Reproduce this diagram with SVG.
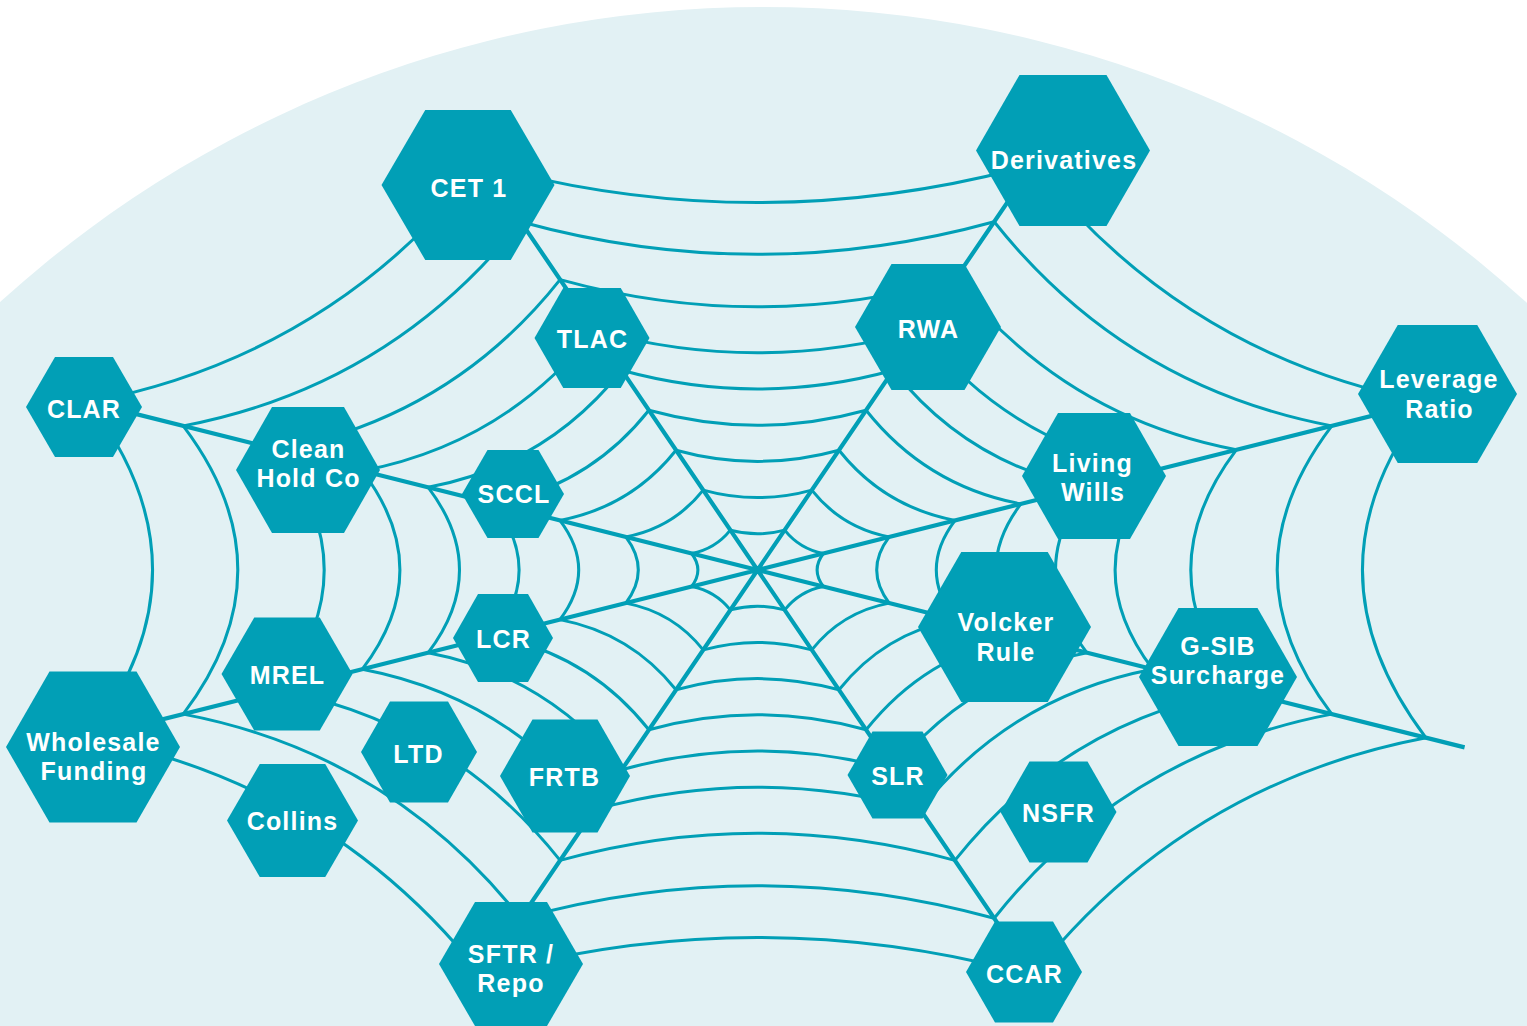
<svg xmlns="http://www.w3.org/2000/svg" width="1527" height="1026" viewBox="0 0 1527 1026">
<style>
.ring{fill:none;stroke:#019fb6;stroke-width:3;stroke-linejoin:round}
.spoke{fill:none;stroke:#019fb6;stroke-width:4.2;stroke-linecap:butt}
.hex{fill:#019fb6}
.lbl{fill:#ffffff;font-family:"Liberation Sans",Arial,sans-serif;font-weight:700;font-size:25px;letter-spacing:1.2px;text-anchor:middle}
</style>
<rect x="0" y="0" width="1527" height="1026" fill="#ffffff"/>
<circle cx="763" cy="1141" r="1134" fill="#e2f1f4"/>
<g id="connectors" transform="translate(757.5 570)">
<path class="ring" d="M-27.2 -39.9Q0 -32.5 27.2 -39.9Q42.2 -21.1 65.9 -16.5Q53.3 0 65.9 16.5Q42.2 21.1 27.2 39.9Q0 32.5 -27.2 39.9Q-42.2 21.1 -65.9 16.5Q-53.3 0 -65.9 -16.5Q-42.2 -21.1 -27.2 -39.9Z"/>
<path class="ring" d="M-54.3 -79.9Q0 -64.9 54.3 -79.9Q84.3 -42.1 131.7 -33.1Q106.7 0 131.7 33.1Q84.3 42.1 54.3 79.9Q0 64.9 -54.3 79.9Q-84.3 42.1 -131.7 33.1Q-106.7 0 -131.7 -33.1Q-84.3 -42.1 -54.3 -79.9Z"/>
<path class="ring" d="M-81.5 -119.8Q0 -97.4 81.5 -119.8Q126.5 -63.2 197.6 -49.6Q160 0 197.6 49.6Q126.5 63.2 81.5 119.8Q0 97.4 -81.5 119.8Q-126.5 63.2 -197.6 49.6Q-160 0 -197.6 -49.6Q-126.5 -63.2 -81.5 -119.8Z"/>
<path class="ring" d="M-108.6 -159.8Q0 -129.8 108.6 -159.8Q168.6 -84.2 263.4 -66.1Q213.4 0 263.4 66.1Q168.6 84.2 108.6 159.8Q0 129.8 -108.6 159.8Q-168.6 84.2 -263.4 66.1Q-213.4 0 -263.4 -66.1Q-168.6 -84.2 -108.6 -159.8Z"/>
<path class="ring" d="M-135.8 -199.7Q0 -162.3 135.8 -199.7Q210.8 -105.3 329.3 -82.7Q266.7 0 329.3 82.7Q210.8 105.3 135.8 199.7Q0 162.3 -135.8 199.7Q-210.8 105.3 -329.3 82.7Q-266.7 0 -329.3 -82.7Q-210.8 -105.3 -135.8 -199.7Z"/>
<path class="ring" d="M-162.9 -239.6Q0 -194.8 162.9 -239.6Q252.9 -126.3 395.2 -99.2Q320 0 395.2 99.2Q252.9 126.3 162.9 239.6Q0 194.8 -162.9 239.6Q-252.9 126.3 -395.2 99.2Q-320 0 -395.2 -99.2Q-252.9 -126.3 -162.9 -239.6Z"/>
<path class="ring" d="M-197.4 -290.4Q0 -236 197.4 -290.4Q306.4 -153 478.8 -120.2Q387.8 0 478.8 120.2Q306.4 153 197.4 290.4Q0 236 -197.4 290.4Q-306.4 153 -478.8 120.2Q-387.8 0 -478.8 -120.2Q-306.4 -153 -197.4 -290.4Z"/>
<path class="ring" d="M-236.7 -348.3Q0 -283.1 236.7 -348.3Q367.5 -183.6 574.3 -144.1Q465.1 0 574.3 144.1Q367.5 183.6 236.7 348.3Q0 283.1 -236.7 348.3Q-367.5 183.6 -574.3 144.1Q-465.1 0 -574.3 -144.1Q-367.5 -183.6 -236.7 -348.3Z"/>
<path class="ring" d="M-275.6 -405.4Q0 -329.5 275.6 -405.4Q427.8 -213.7 668.5 -167.8Q541.4 0 668.5 167.8Q427.8 213.7 275.6 405.4Q0 329.5 -275.6 405.4Q-427.8 213.7 -668.5 167.8Q-541.4 0 -668.5 -167.8Q-427.8 -213.7 -275.6 -405.4Z"/>
<path class="spoke" d="M-272.6 -401.1L272.6 401.1M272.6 -401.1L-272.6 401.1M-679 -170.4L707.1 177.4M679 -170.4L-679 170.4"/>
</g>
<g id="node-cet1"><polygon class="hex" points="381.5,185 425.25,110 510.75,110 554.5,185 510.75,260 425.25,260"/><text class="lbl" x="469" y="197">CET 1</text></g>
<g id="node-derivatives"><polygon class="hex" points="976,150.5 1019.5,75 1106.5,75 1150,150.5 1106.5,226 1019.5,226"/><text class="lbl" x="1064" y="169">Derivatives</text></g>
<g id="node-tlac"><polygon class="hex" points="534.5,338 563.25,288 620.75,288 649.5,338 620.75,388 563.25,388"/><text class="lbl" x="592.5" y="348">TLAC</text></g>
<g id="node-rwa"><polygon class="hex" points="855,327 891.5,264 964.5,264 1001,327 964.5,390 891.5,390"/><text class="lbl" x="928.5" y="338">RWA</text></g>
<g id="node-clar"><polygon class="hex" points="26,407 55,357 113,357 142,407 113,457 55,457"/><text class="lbl" x="84" y="418">CLAR</text></g>
<g id="node-cleanholdco"><polygon class="hex" points="236,470 272,407 344,407 380,470 344,533 272,533"/><text class="lbl"><tspan x="308.5" y="458">Clean</tspan><tspan x="308.5" y="487">Hold Co</tspan></text></g>
<g id="node-sccl"><polygon class="hex" points="462,494 487.5,450 538.5,450 564,494 538.5,538 487.5,538"/><text class="lbl" x="514" y="503">SCCL</text></g>
<g id="node-lcr"><polygon class="hex" points="453,638 478,594 528,594 553,638 528,682 478,682"/><text class="lbl" x="503.5" y="648">LCR</text></g>
<g id="node-mrel"><polygon class="hex" points="221.5,674 254.25,617.5 319.75,617.5 352.5,674 319.75,730.5 254.25,730.5"/><text class="lbl" x="287.5" y="684">MREL</text></g>
<g id="node-wholesalefunding"><polygon class="hex" points="6,747 49.5,671.5 136.5,671.5 180,747 136.5,822.5 49.5,822.5"/><text class="lbl"><tspan x="93.5" y="751">Wholesale</tspan><tspan x="94" y="780">Funding</tspan></text></g>
<g id="node-collins"><polygon class="hex" points="227,820.5 259.75,764 325.25,764 358,820.5 325.25,877 259.75,877"/><text class="lbl" x="292.5" y="830">Collins</text></g>
<g id="node-ltd"><polygon class="hex" points="361,752 390,701.5 448,701.5 477,752 448,802.5 390,802.5"/><text class="lbl" x="418.5" y="763">LTD</text></g>
<g id="node-frtb"><polygon class="hex" points="500,776 532.5,719.5 597.5,719.5 630,776 597.5,832.5 532.5,832.5"/><text class="lbl" x="564.5" y="786">FRTB</text></g>
<g id="node-sftrrepo"><polygon class="hex" points="439,964 475,902 547,902 583,964 547,1026 475,1026"/><text class="lbl"><tspan x="511" y="963">SFTR /</tspan><tspan x="511" y="992">Repo</tspan></text></g>
<g id="node-slr"><polygon class="hex" points="847.5,775 872.5,731.5 922.5,731.5 947.5,775 922.5,818.5 872.5,818.5"/><text class="lbl" x="898" y="785">SLR</text></g>
<g id="node-nsfr"><polygon class="hex" points="1000.5,812 1029.5,761.5 1087.5,761.5 1116.5,812 1087.5,862.5 1029.5,862.5"/><text class="lbl" x="1058.5" y="822">NSFR</text></g>
<g id="node-ccar"><polygon class="hex" points="966,972 995,921.5 1053,921.5 1082,972 1053,1022.5 995,1022.5"/><text class="lbl" x="1024.5" y="983">CCAR</text></g>
<g id="node-livingwills"><polygon class="hex" points="1022,476 1058,413 1130,413 1166,476 1130,539 1058,539"/><text class="lbl"><tspan x="1092.5" y="472">Living</tspan><tspan x="1093" y="501">Wills</tspan></text></g>
<g id="node-volckerrule"><polygon class="hex" points="918,627 961.25,552 1047.75,552 1091,627 1047.75,702 961.25,702"/><text class="lbl"><tspan x="1006" y="631">Volcker</tspan><tspan x="1006" y="661">Rule</tspan></text></g>
<g id="node-gsibsurcharge"><polygon class="hex" points="1139,677 1178.5,608 1257.5,608 1297,677 1257.5,746 1178.5,746"/><text class="lbl"><tspan x="1218" y="655">G-SIB</tspan><tspan x="1218" y="684">Surcharge</tspan></text></g>
<g id="node-leverageratio"><polygon class="hex" points="1358,394 1397.75,325 1477.25,325 1517,394 1477.25,463 1397.75,463"/><text class="lbl"><tspan x="1439" y="388">Leverage</tspan><tspan x="1439.5" y="418">Ratio</tspan></text></g>
</svg>
